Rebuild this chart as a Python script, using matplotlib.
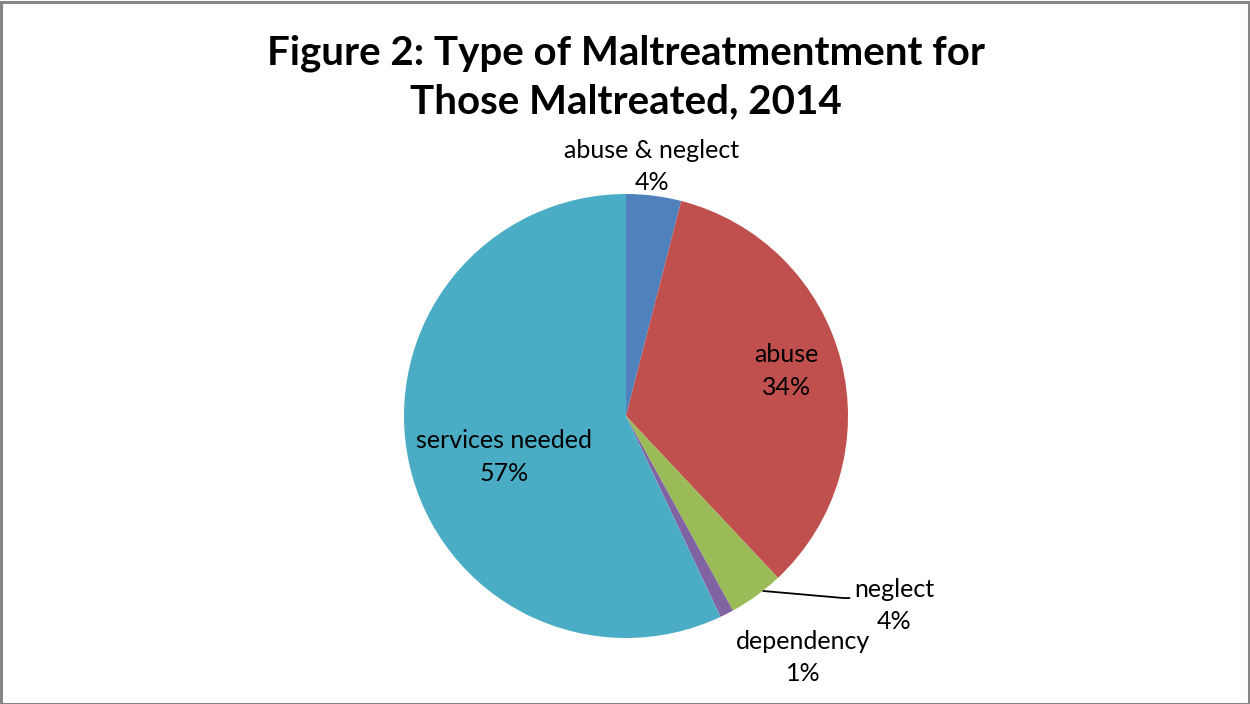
import numpy as np
import matplotlib
matplotlib.use("Agg")
import matplotlib.pyplot as plt
from matplotlib.patches import Rectangle

plt.rcParams['font.family'] = ['Lato', 'DejaVu Sans']

# Share of maltreated cases by type, 2014 (percent)
categories = ["abuse & neglect", "abuse", "neglect", "dependency", "services needed"]
shares = [4, 34, 4, 1, 57]
colors = ["#4F81BD", "#C0504D", "#9BBB59", "#8064A2", "#4BACC6"]

title = "Figure 2: Type of Maltreatmentment for\nThose Maltreated, 2014"

# Label placement per slice: (radius factor, angle offset in degrees from wedge middle)
label_layout = [(1.13, 1.3), (0.75, 1.3), (1.48, 18.8), (1.35, 9.3), (0.58, 6.0)]

W, H = 1250, 704
fig = plt.figure(figsize=(W / 100, H / 100), dpi=100)
fig.patch.set_facecolor("white")

cx, cy, r = 626, 416, 222
ax = fig.add_axes([(cx - r) / W, (H - cy - r) / H, 2 * r / W, 2 * r / H])
ax.set_xlim(-1, 1)
ax.set_ylim(-1, 1)
ax.set_aspect("equal")
ax.axis("off")

wedges, _ = ax.pie(shares, colors=colors, startangle=90, counterclock=False,
                   radius=1.0, wedgeprops=dict(linewidth=0))
ax.set_xlim(-1, 1)
ax.set_ylim(-1, 1)

for w, name, val, (rf, da) in zip(wedges, categories, shares, label_layout):
    mid = np.deg2rad((w.theta1 + w.theta2) / 2 + da)
    x, y = rf * np.cos(mid), rf * np.sin(mid)
    ax.text(x, y, f"{name}\n{val}%", ha="center", va="center", fontsize=18,
            color="black", linespacing=1.5, clip_on=False)

# Leader line for the neglect slice
wn = wedges[2]
a0 = np.deg2rad((wn.theta1 + wn.theta2) / 2 + 2)
lx = [np.cos(a0), 0.98, 1.01]
ly = [np.sin(a0), -0.82, -0.82]
ax.plot(lx, ly, color="black", lw=1.3, clip_on=False, solid_capstyle="butt")

fig.text(0.5008, 1 - 77 / H, title, ha="center", va="center", fontsize=29,
         fontweight="bold", linespacing=1.38)

fig.patches.append(Rectangle((0.5 / W, 0.5 / H), 1 - 2 / W, 1 - 2 / H,
                             transform=fig.transFigure, fill=False,
                             edgecolor="#868686", linewidth=2.2))

fig.savefig("out.png", dpi=100, facecolor="white")
